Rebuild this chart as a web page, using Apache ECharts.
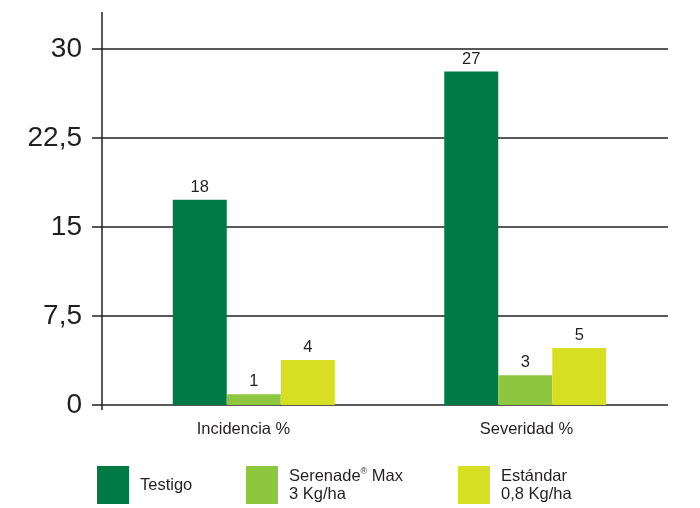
<!DOCTYPE html>
<html><head><meta charset="utf-8">
<script src="https://cdn.jsdelivr.net/npm/echarts@6/dist/echarts.min.js"></script>
<style>html,body{margin:0;padding:0;background:#fff}#c{width:700px;height:508px}</style>
</head><body><div id="c"></div>
<script>
const categories = ['Incidencia %', 'Severidad %'];
const seriesNames = ['Testigo', 'Serenade® Max 3 Kg/ha', 'Estándar 0,8 Kg/ha'];
const testigo = [17.3, 28.1];
const serenade = [0.9, 2.5];
const estandar = [3.8, 4.8];
const testigoLabels = ['18', '27'];
const serenadeLabels = ['1', '3'];
const estandarLabels = ['4', '5'];
const yTicks = [0, 7.5, 15, 22.5, 30];

const colors = ['#007a44', '#8dc63f', '#d6df23'];
const font = '"Liberation Sans", Arial, sans-serif';
const ink = '#231f20';

const chart = echarts.init(document.getElementById('c'));
function mk(name, data, labels, color) {
  return {
    name: name, type: 'bar', xAxisIndex: 1, yAxisIndex: 1,
    data: data, barWidth: 54, barGap: '0%',
    itemStyle: { color: color },
    label: { show: true, position: 'top', distance: 4, color: ink, fontFamily: font, fontSize: 16.5,
      formatter: p => labels[p.dataIndex] }
  };
}
function legendAt(name, left, fmt) {
  return {
    data: [name], left: left, top: 466, padding: 0, icon: 'rect',
    itemWidth: 32, itemHeight: 38, selectedMode: false,
    formatter: fmt,
    textStyle: { color: ink, fontFamily: font, fontSize: 16.5, lineHeight: 18, padding: [0, 0, 0, 6],
      rich: { sup: { fontSize: 9, verticalAlign: 'top', lineHeight: 18, color: ink, fontFamily: font, padding: [0,0,8,0] } } }
  };
}
chart.setOption({
  animation: false,
  grid: [
    { left: 102, right: 32, top: 49, bottom: 103 },
    { left: 118, right: 39, top: 49, bottom: 103 }
  ],
  legend: [
    legendAt(seriesNames[0], 97, () => 'Testigo'),
    legendAt(seriesNames[1], 246, () => 'Serenade{sup|®} Max\n3 Kg/ha'),
    legendAt(seriesNames[2], 458, () => 'Estándar\n0,8 Kg/ha')
  ],
  xAxis: [
    { type: 'category', gridIndex: 0, data: categories, axisLine: { show: false }, axisTick: { show: false },
      axisLabel: { margin: 16, color: ink, fontFamily: font, fontSize: 16.5 } },
    { type: 'category', gridIndex: 1, data: categories, show: false }
  ],
  yAxis: [
    { type: 'value', gridIndex: 0, min: yTicks[0], max: yTicks[yTicks.length - 1], interval: yTicks[1] - yTicks[0],
      axisLine: { show: false },
      axisTick: { show: true, length: 10, lineStyle: { color: ink, width: 1.5 } },
      splitLine: { show: true, lineStyle: { color: ink, width: 1.5 } },
      axisLabel: { margin: 20, color: ink, fontFamily: font, fontSize: 28,
        formatter: v => String(v).replace('.', ',') } },
    { type: 'value', gridIndex: 1, min: yTicks[0], max: yTicks[yTicks.length - 1], show: false }
  ],
  graphic: [
    { type: 'line', z: 100, shape: { x1: 102, y1: 12, x2: 102, y2: 410 }, style: { stroke: ink, lineWidth: 1.5 } }
  ],
  series: [
    mk(seriesNames[0], testigo, testigoLabels, colors[0]),
    mk(seriesNames[1], serenade, serenadeLabels, colors[1]),
    mk(seriesNames[2], estandar, estandarLabels, colors[2])
  ]
});
</script></body></html>
